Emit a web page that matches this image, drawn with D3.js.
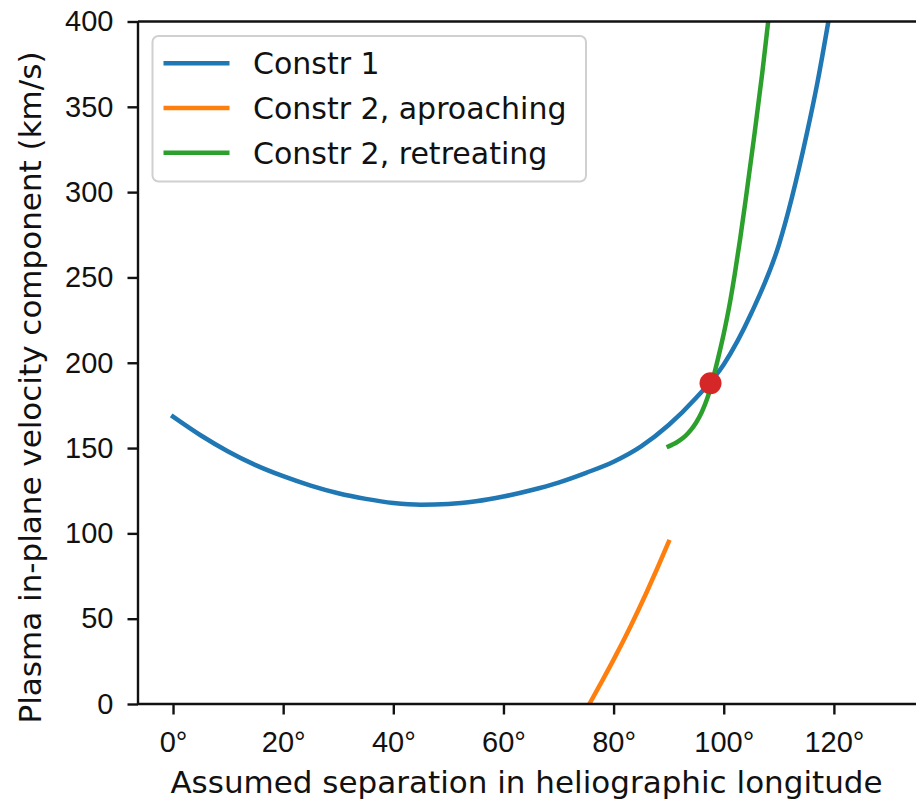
<!DOCTYPE html>
<html>
<head>
<meta charset="utf-8">
<script src="https://cdn.jsdelivr.net/npm/d3@7"></script>
<style>
  body { margin: 0; background: #fff; }
  svg { display: block; font-family: "DejaVu Sans", sans-serif; }
  .tick text { fill: #111; font-size: 29px; }
  .domain, .tick line { stroke: #111; }
</style>
</head>
<body>
<div id="chart"></div>
<script>
// values (deg, km/s)
var constr1X = [0, 5, 10, 15, 20, 25, 30, 35, 40, 45, 50, 55, 60, 65, 70, 75, 80, 85, 90, 95, 100, 105, 110, 115, 117, 119];
var constr1Y = [168.4, 157.5, 148, 140, 133.5, 128, 123.5, 120.2, 117.8, 116.8, 117.2, 118.8, 121.6, 125.3, 129.8, 135.5, 142, 151, 163.5, 179.5, 199, 229, 269, 333, 364, 400];

var approachX = [75.6, 78, 80, 83, 86, 88, 90];
var approachY = [0, 14, 26, 45, 65.5, 80, 95];

var retreatX = [90, 91, 92, 93, 94, 95, 96, 97, 98, 99, 100, 101, 102, 103, 104, 105.5, 107, 108, 108.3];
var retreatY = [151, 152.5, 154.5, 157, 160.5, 165, 171, 179, 190, 203, 217, 233, 252, 273, 296, 332, 370, 398, 406];

var crossX = [97.6];
var crossY = [188];

var xTicks = [0, 20, 40, 60, 80, 100, 120];
var yTicks = [0, 50, 100, 150, 200, 250, 300, 350, 400];

var seriesNames = ["Constr 1", "Constr 2, aproaching", "Constr 2, retreating"];
var seriesColors = ["#1f77b4", "#ff7f0e", "#2ca02c"];

var W = 916, H = 800;
var margin = {left: 138, top: 21.5};
var pw = 784, ph = 682.5;

var svg = d3.select("#chart").append("svg")
    .attr("width", W)
    .attr("height", H);

var x = d3.scaleLinear().domain([-6.36, 136]).range([0, pw]);
var y = d3.scaleLinear().domain([0, 400]).range([ph, 0]);

var g = svg.append("g")
    .attr("transform", "translate(" + margin.left + "," + margin.top + ")");

g.append("clipPath").attr("id", "clip")
  .append("rect").attr("width", pw).attr("height", ph);

var line = d3.line()
    .x(function(d) { return x(d[0]); })
    .y(function(d) { return y(d[1]); })
    .curve(d3.curveMonotoneX);

var series = [
  d3.zip(constr1X, constr1Y),
  d3.zip(approachX, approachY),
  d3.zip(retreatX, retreatY)
];

var plot = g.append("g").attr("clip-path", "url(#clip)");

plot.selectAll("path.series")
    .data(series)
  .enter().append("path")
    .attr("class", "series")
    .attr("d", line)
    .attr("fill", "none")
    .attr("stroke", function(d, i) { return seriesColors[i]; })
    .attr("stroke-width", 4.5)
    .attr("stroke-linecap", "square");

plot.selectAll("circle")
    .data(d3.zip(crossX, crossY))
  .enter().append("circle")
    .attr("cx", function(d) { return x(d[0]); })
    .attr("cy", function(d) { return y(d[1]); })
    .attr("r", 11)
    .attr("fill", "#d62728");

// axes
var xAxis = g.append("g")
    .attr("transform", "translate(0," + ph + ")")
    .call(d3.axisBottom(x).tickValues(xTicks).tickSize(10.5).tickPadding(17)
      .tickFormat(function(d) { return d + "°"; }));
xAxis.selectAll(".tick text").attr("dy", "0.71em");

var yAxis = g.append("g")
    .call(d3.axisLeft(y).tickValues(yTicks).tickSize(10.5).tickPadding(14));

g.selectAll(".domain").attr("stroke-width", 2.4);
g.selectAll(".tick line").attr("stroke-width", 2.4);
xAxis.select(".domain").attr("d", "M0,0H" + pw);
yAxis.select(".domain").attr("d", "M0," + ph + "V0");

// top spine and right spine (right one sits past the picture edge)
g.append("line").attr("x1", 0).attr("x2", pw).attr("y1", 0).attr("y2", 0)
    .attr("stroke", "#111").attr("stroke-width", 2.4);
g.append("line").attr("x1", pw).attr("x2", pw).attr("y1", 0).attr("y2", ph)
    .attr("stroke", "#111").attr("stroke-width", 2.4);

// axis labels
svg.append("text")
    .attr("x", 526.5)
    .attr("y", 793)
    .attr("text-anchor", "middle")
    .attr("font-size", 31)
    .attr("fill", "#111")
    .text("Assumed separation in heliographic longitude");

svg.append("text")
    .attr("transform", "translate(41," + 387.5 + ") rotate(-90)")
    .attr("text-anchor", "middle")
    .attr("font-size", 31)
    .attr("fill", "#111")
    .text("Plasma in-plane velocity component (km/s)");

// legend
var legend = g.append("g").attr("transform", "translate(14.5,14.5)");
legend.append("rect")
    .attr("width", 433.5)
    .attr("height", 145.5)
    .attr("rx", 6)
    .attr("fill", "#fff")
    .attr("fill-opacity", 0.8)
    .attr("stroke", "#d0d0d0")
    .attr("stroke-width", 2);

var rows = legend.selectAll("g.row")
    .data(seriesNames)
  .enter().append("g")
    .attr("class", "row")
    .attr("transform", function(d, i) { return "translate(0," + (27.3 + i * 44.7) + ")"; });

rows.append("line")
    .attr("x1", 11).attr("x2", 77)
    .attr("stroke", function(d, i) { return seriesColors[i]; })
    .attr("stroke-width", 4.5);

rows.append("text")
    .attr("x", 100.5)
    .attr("dy", "0.36em")
    .attr("font-size", 30)
    .attr("fill", "#111")
    .text(function(d) { return d; });
</script>
</body>
</html>
